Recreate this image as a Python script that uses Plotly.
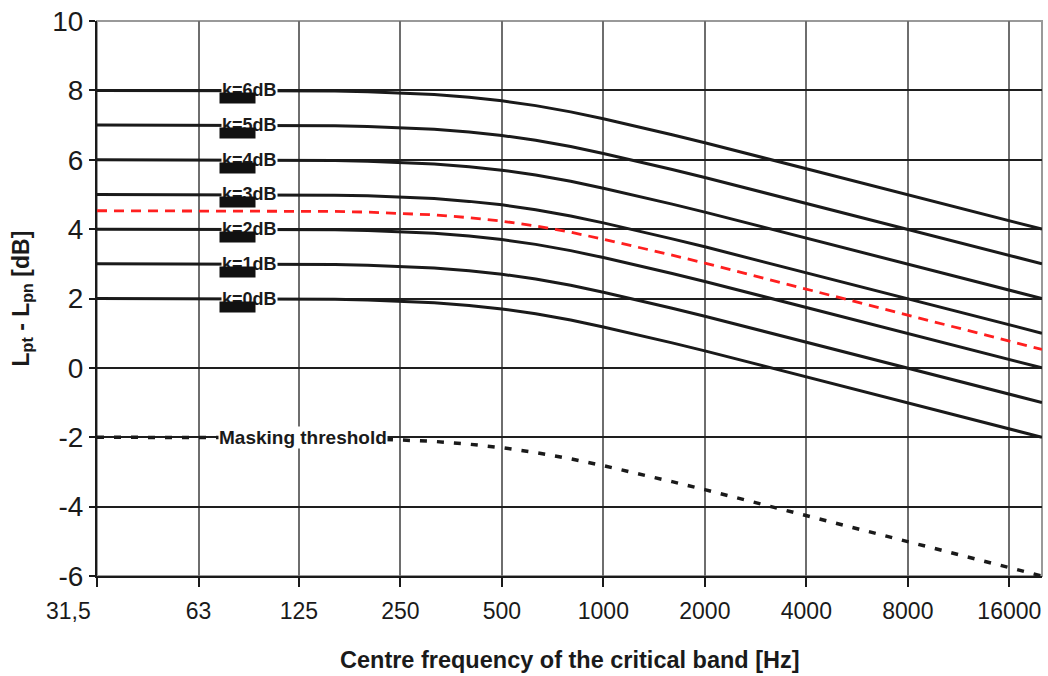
import numpy as np
import plotly.graph_objects as go

# 1/3-octave band centre frequencies (Hz)
freq = [31.5, 40, 50, 63, 80, 100, 125, 160, 200, 250, 315, 400, 500, 630, 800,
        1000, 1250, 1600, 2000, 2500, 3150, 4000, 5000, 6300, 8000, 10000,
        12500, 16000, 20000]

k0 = [2.00, 2.00, 2.00, 2.00, 2.00, 1.99, 1.99, 1.98, 1.96, 1.93, 1.88, 1.80, 1.70, 1.56, 1.38,
      1.18, 0.97, 0.72, 0.49, 0.25, 0.00, -0.26, -0.50, -0.75, -1.01, -1.25, -1.49, -1.76, -2.00]
k1 = [3.00, 3.00, 3.00, 3.00, 3.00, 2.99, 2.99, 2.98, 2.96, 2.93, 2.88, 2.80, 2.70, 2.56, 2.38,
      2.18, 1.97, 1.72, 1.49, 1.25, 1.00, 0.74, 0.50, 0.25, -0.01, -0.25, -0.49, -0.76, -1.00]
k2 = [4.00, 4.00, 4.00, 4.00, 4.00, 3.99, 3.99, 3.98, 3.96, 3.93, 3.88, 3.80, 3.70, 3.56, 3.38,
      3.18, 2.97, 2.72, 2.49, 2.25, 2.00, 1.74, 1.50, 1.25, 0.99, 0.75, 0.51, 0.24, 0.00]
k3 = [5.00, 5.00, 5.00, 5.00, 5.00, 4.99, 4.99, 4.98, 4.96, 4.93, 4.88, 4.80, 4.70, 4.56, 4.38,
      4.18, 3.97, 3.72, 3.49, 3.25, 3.00, 2.74, 2.50, 2.25, 1.99, 1.75, 1.51, 1.24, 1.00]
k4 = [6.00, 6.00, 6.00, 6.00, 6.00, 5.99, 5.99, 5.98, 5.96, 5.93, 5.88, 5.80, 5.70, 5.56, 5.38,
      5.18, 4.97, 4.72, 4.49, 4.25, 4.00, 3.74, 3.50, 3.25, 2.99, 2.75, 2.51, 2.24, 2.00]
k5 = [7.00, 7.00, 7.00, 7.00, 7.00, 6.99, 6.99, 6.98, 6.96, 6.93, 6.88, 6.80, 6.70, 6.56, 6.38,
      6.18, 5.97, 5.72, 5.49, 5.25, 5.00, 4.74, 4.50, 4.25, 3.99, 3.75, 3.51, 3.24, 3.00]
k6 = [8.00, 8.00, 8.00, 8.00, 8.00, 7.99, 7.99, 7.98, 7.96, 7.93, 7.88, 7.80, 7.70, 7.56, 7.38,
      7.18, 6.97, 6.72, 6.49, 6.25, 6.00, 5.74, 5.50, 5.25, 4.99, 4.75, 4.51, 4.24, 4.00]
red_line = [4.53, 4.53, 4.53, 4.53, 4.53, 4.52, 4.52, 4.51, 4.49, 4.46, 4.41, 4.33, 4.23, 4.09, 3.91,
            3.71, 3.50, 3.25, 3.02, 2.78, 2.53, 2.27, 2.03, 1.78, 1.52, 1.28, 1.04, 0.77, 0.53]
masking = [-2.00, -2.00, -2.00, -2.00, -2.00, -2.01, -2.01, -2.02, -2.04, -2.07, -2.12, -2.20, -2.30, -2.44, -2.62,
           -2.82, -3.03, -3.28, -3.51, -3.75, -4.00, -4.26, -4.50, -4.75, -5.01, -5.25, -5.49, -5.76, -6.00]

k_series = [k0, k1, k2, k3, k4, k5, k6]
k_names = ["k=0dB", "k=1dB", "k=2dB", "k=3dB", "k=4dB", "k=5dB", "k=6dB"]
k_levels = [2, 3, 4, 5, 6, 7, 8]

x_tick_vals = [31.5, 63, 125, 250, 500, 1000, 2000, 4000, 8000, 16000]
x_tick_text = ["", "63", "125", "250", "500", "1000", "2000", "4000", "8000", "16000"]
first_tick_label = "31,5"
y_tick_vals = [-6, -4, -2, 0, 2, 4, 6, 8, 10]
y_tick_text = ["-6", "-4", "-2", "0", "2", "4", "6", "8", "10"]

label_freq = 89        # where the k labels sit
mask_label_freq = 129  # where the masking label sits
mask_label_level = -2

FONT = "Liberation Sans, Arial, sans-serif"

fig = go.Figure()
for y, name in zip(k_series, k_names):
    fig.add_trace(go.Scatter(x=freq, y=y, mode="lines", name=name,
                             line=dict(color="#1a1a1a", width=3), showlegend=False))
fig.add_trace(go.Scatter(x=freq, y=red_line, mode="lines", showlegend=False,
                         line=dict(color="#ff1f1f", width=2.8, dash="10px,7px")))
fig.add_trace(go.Scatter(x=freq, y=masking, mode="lines", showlegend=False,
                         line=dict(color="#1a1a1a", width=3.5, dash="7px,10px")))

annotations = []
for lvl, name in zip(k_levels, k_names):
    annotations.append(dict(x=np.log10(label_freq), y=lvl, xref="x", yref="y", text="<b>" + name + "</b>",
                            showarrow=False, font=dict(family=FONT, size=18, color="#1a1a1a"),
                            bgcolor="white", borderpad=0, xanchor="center", yanchor="middle"))
    # small dark key bar partly under each label
    annotations.append(dict(x=np.log10(label_freq), y=lvl, xref="x", yref="y", text=" ",
                            showarrow=False, width=35, height=10, bgcolor="#111111",
                            borderpad=0, xshift=-12, yshift=-8, font=dict(size=6)))
annotations.append(dict(x=np.log10(mask_label_freq), y=mask_label_level, xref="x", yref="y",
                        text="<b>Masking threshold</b>", showarrow=False,
                        font=dict(family=FONT, size=19, color="#1a1a1a"),
                        bgcolor="white", borderpad=0))
annotations.append(dict(x=np.log10(x_tick_vals[0]), y=0, xref="x", yref="paper",
                        text=first_tick_label, showarrow=False, xanchor="right", yanchor="top",
                        xshift=-4, yshift=-20, font=dict(family=FONT, size=23, color="#1a1a1a")))
annotations.append(dict(x=0.5, y=0, xref="paper", yref="paper",
                        text="<b>Centre frequency of the critical band [Hz]</b>", showarrow=False,
                        yanchor="middle", yshift=-84, font=dict(family=FONT, size=23.5, color="#1a1a1a")))
annotations.append(dict(x=0, y=0.5, xref="paper", yref="paper",
                        text="<b>L<sub>pt</sub> - L<sub>pn</sub> [dB]</b>", showarrow=False,
                        textangle=-90, xanchor="center", xshift=-75,
                        font=dict(family=FONT, size=23, color="#1a1a1a")))

fig.update_layout(
    width=1048, height=676,
    margin=dict(l=97, r=6, t=18, b=100),
    plot_bgcolor="white", paper_bgcolor="white",
    annotations=annotations,
    shapes=[dict(type="rect", xref="paper", yref="paper", x0=0, x1=1, y0=0, y1=1,
                 line=dict(color="#999999", width=2), layer="between")],
    xaxis=dict(type="log", range=[np.log10(freq[0]), np.log10(freq[-1])],
               tickmode="array", tickvals=x_tick_vals, ticktext=x_tick_text,
               showgrid=True, gridcolor="#6e6e6e", gridwidth=1.5,
               showline=True, linecolor="#1a1a1a", linewidth=2,
               ticks="outside", ticklen=9, tickwidth=1.5, tickcolor="#1a1a1a",
               ticklabelstandoff=4,
               tickfont=dict(family=FONT, size=23, color="#1a1a1a"),
               zeroline=False),
    yaxis=dict(range=[-6, 10], tickmode="array", tickvals=y_tick_vals, ticktext=y_tick_text,
               showgrid=True, gridcolor="#1e1e1e", gridwidth=1.5,
               showline=True, linecolor="#1a1a1a", linewidth=2,
               ticks="outside", ticklen=6, tickwidth=1.5, tickcolor="#1a1a1a",
               tickfont=dict(family=FONT, size=28, color="#1a1a1a"),
               zeroline=False),
)

fig.write_html("out.html")
